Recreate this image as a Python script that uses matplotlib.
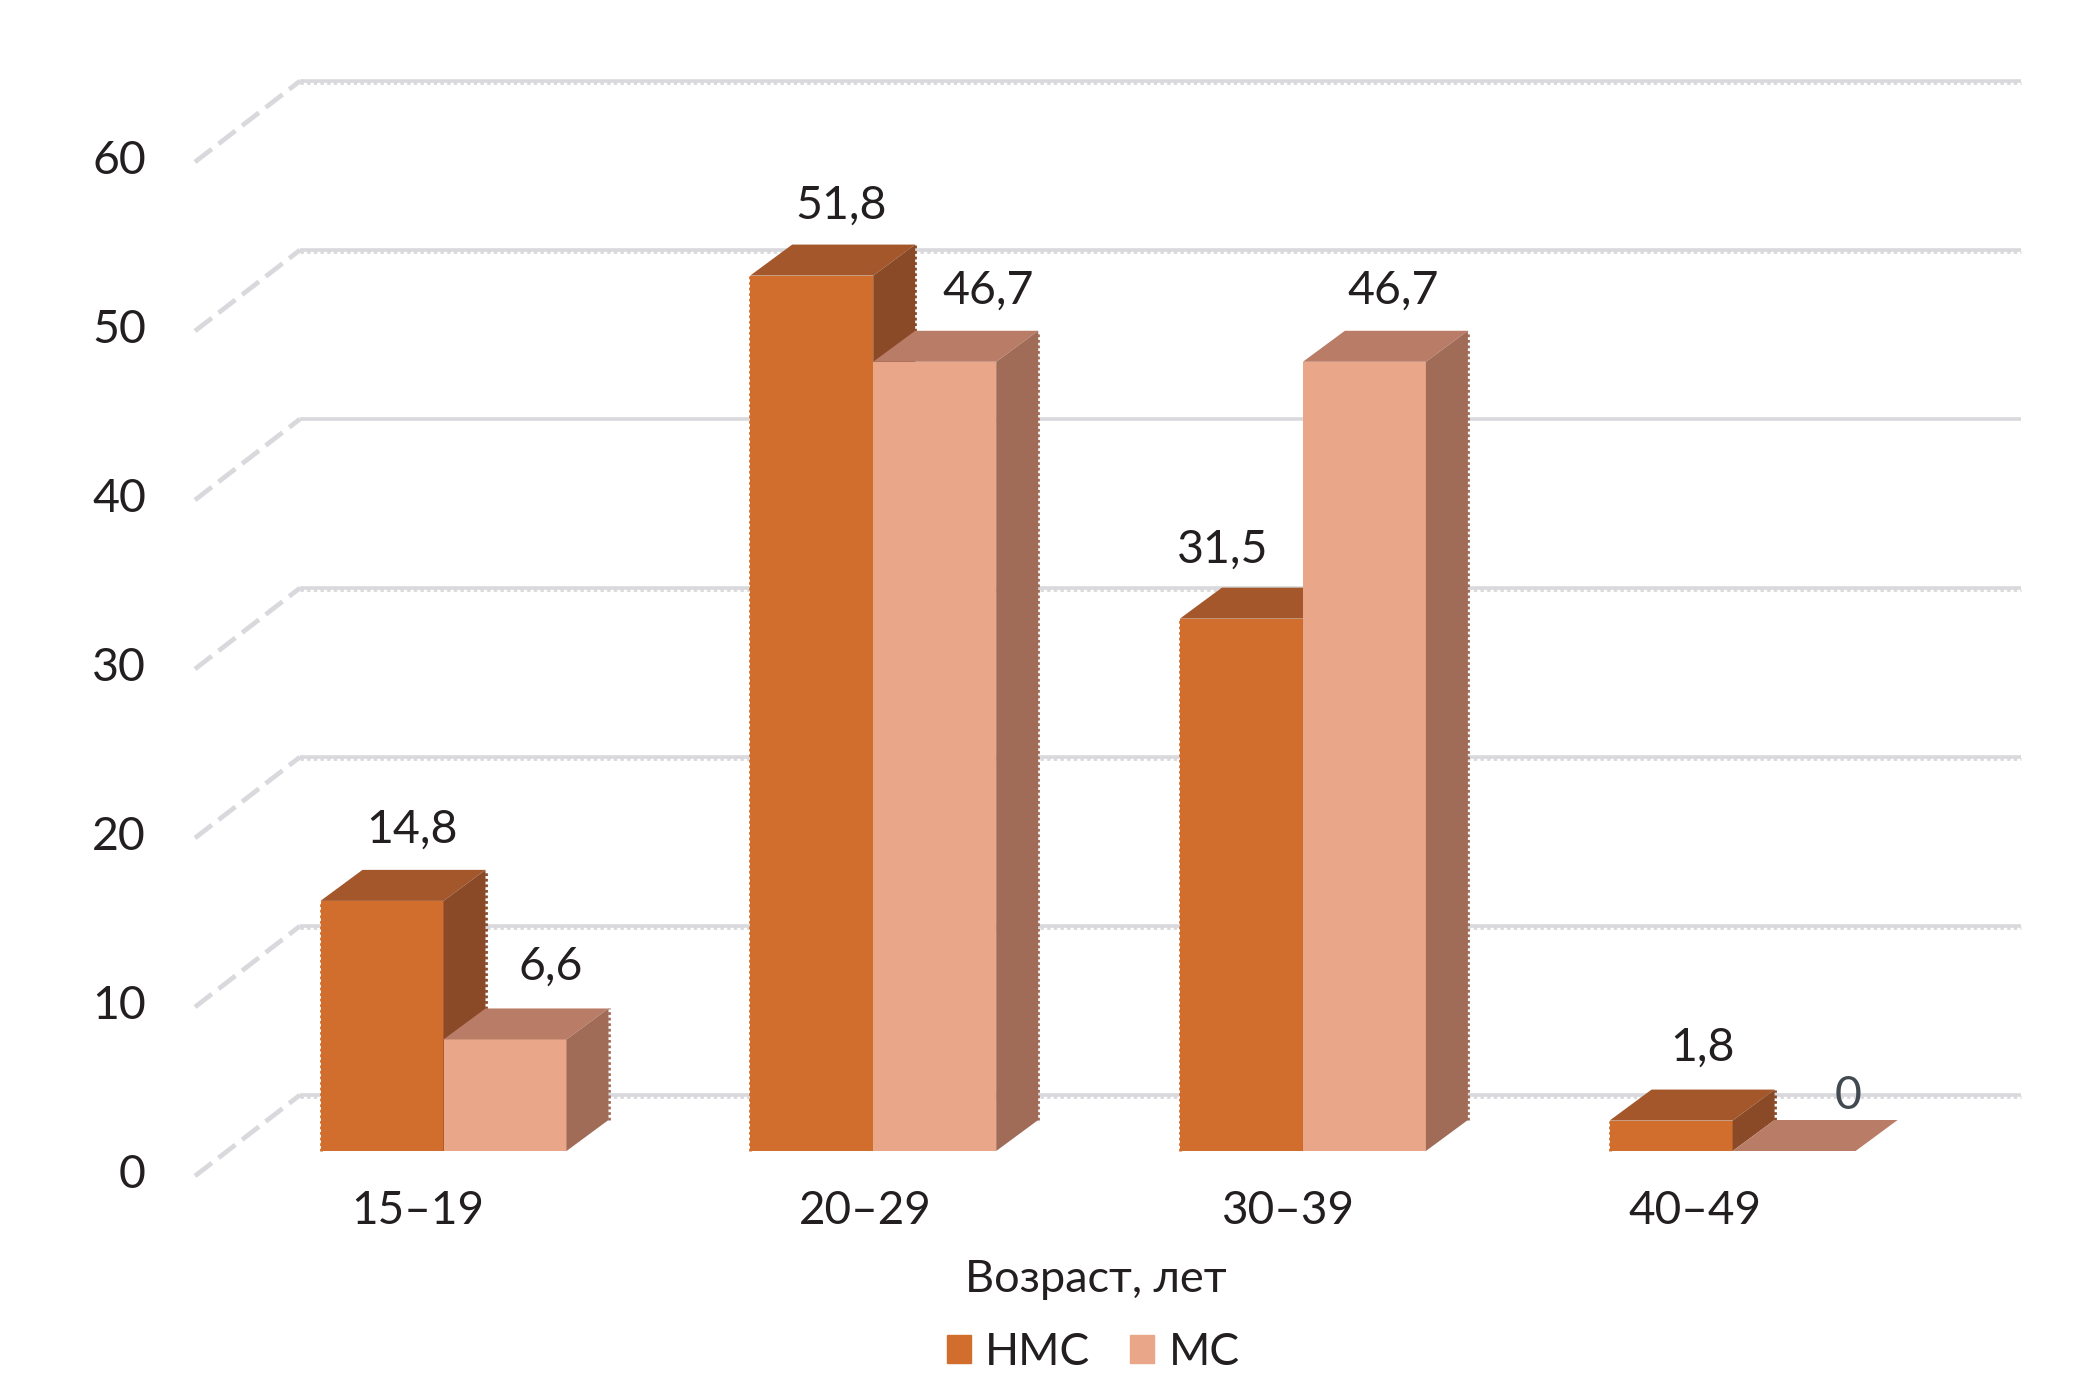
import matplotlib
matplotlib.use("Agg")
import matplotlib.pyplot as plt
from matplotlib.patches import Patch
from matplotlib.transforms import Affine2D

plt.rcParams['font.family'] = ['Lato', 'Noto Sans', 'DejaVu Sans']

categories = ['15–19', '20–29', '30–39', '40–49']
nms = [14.8, 51.8, 31.5, 1.8]
ms = [6.6, 46.7, 46.7, 0]
y_ticks = [0, 10, 20, 30, 40, 50, 60]
series_names = ['НМС', 'МС']
nms_labels = ['14,8', '51,8', '31,5', '1,8']
ms_labels = ['6,6', '46,7', '46,7', '0']
x_title = 'Возраст, лет'

W, H, DPI = 2078, 1378, 100
PX_X, PX_Y = 429.7, 16.9          # pixels per category / per value unit
X0_PX, Y0_PX = 443.5, 1151        # where the first group's centre and value 0 fall
LEFT_PX, RIGHT_PX = 195, 2021
BAR_W = 123 / PX_X
DX, DY = 42 / PX_X, 31 / PX_Y     # bar depth in data units
TXT = '#231f20'
GRID = '#d9d9dd'
FS = 33

fig = plt.figure(figsize=(W / DPI, H / DPI), dpi=DPI, facecolor='white')
ax = fig.add_axes([LEFT_PX / W, (H - Y0_PX) / H, (RIGHT_PX - LEFT_PX) / W, Y0_PX * 0.948 / H])
ax.set_xlim((LEFT_PX - X0_PX) / PX_X, (RIGHT_PX - X0_PX) / PX_X)
ax.set_ylim(0, Y0_PX * 0.948 / PX_Y)
for s in ax.spines.values():
    s.set_visible(False)

# back wall and floor-side lines
wall_dy = 56 / PX_Y
wall_x0 = (300 - X0_PX) / PX_X
wall_x1 = ax.get_xlim()[1]
diag_x = ax.get_xlim()[0]
diag_dy = 81 / PX_Y
for v in y_ticks:
    yb = v + wall_dy
    ax.plot([wall_x0, wall_x1], [yb, yb], color=GRID, lw=2.6, zorder=1, clip_on=False,
            solid_capstyle='butt')
    if v != 40:
        ax.plot([wall_x0, wall_x1], [yb - 2.3 / PX_Y] * 2, color=GRID, lw=2.0, zorder=1,
                clip_on=False, linestyle=(0, (1.2, 1.2)))
    ax.plot([diag_x, wall_x0], [yb - diag_dy, yb], color=GRID, lw=3.4, zorder=1, clip_on=False,
            linestyle=(0, (4.5, 1.8)))


def bar3d(x_left, value, front, top, side):
    ax.bar(x_left, value, BAR_W, align='edge', color=front, zorder=3, clip_on=False, linewidth=0)
    xr = x_left + BAR_W
    ax.fill([x_left, xr, xr + DX, x_left + DX], [value, value, value + DY, value + DY],
            color=top, zorder=3, clip_on=False, linewidth=0)
    ax.fill([xr, xr + DX, xr + DX, xr], [0, DY, value + DY, value],
            color=side, zorder=3, clip_on=False, linewidth=0)
    if value > 0:
        ax.plot([xr + DX] * 2, [DY, value + DY], color=side, lw=2, linestyle=(0, (1, 1)), zorder=3,
                clip_on=False)


colors_nms = ('#d26e2d', '#a3572a', '#8a4a28')
colors_ms = ('#e9a688', '#b97c66', '#a06c58')
for i, (a, b) in enumerate(zip(nms, ms)):
    bar3d(i - BAR_W, a, *colors_nms)
    ax.plot([i - BAR_W] * 2, [0, a], color=colors_nms[0], lw=2, linestyle=(0, (1, 1)), zorder=3,
            clip_on=False)
    bar3d(i, b, *colors_ms)

# value labels, pixel offset from each bar's top centre
nms_off = [(30, 71), (29, 70), (-19, 69), (31, 73)]
ms_off = [(46, 73), (53, 71), (29, 71), (54, 55)]
for i in range(len(categories)):
    ax.annotate(nms_labels[i], (i - BAR_W / 2, nms[i]), xytext=nms_off[i], textcoords='offset pixels',
                ha='center', va='center', fontsize=33.5, color=TXT, zorder=5, annotation_clip=False)
    ax.annotate(ms_labels[i], (i + BAR_W / 2, ms[i]), xytext=ms_off[i], textcoords='offset pixels',
                ha='center', va='center', fontsize=33.5, zorder=5, annotation_clip=False,
                color='#404a50' if ms[i] == 0 else TXT)

# axes ticks
ax.set_yticks(y_ticks)
ax.set_yticklabels([str(v) for v in y_ticks], fontsize=33.5, color=TXT)
ax.tick_params(axis='y', length=0, pad=49 * 0.72)
for lab in ax.get_yticklabels():
    lab.set_transform(lab.get_transform() + Affine2D().translate(0, -20))

ax.set_xticks(range(len(categories)))
ax.set_xticklabels(categories, fontsize=FS, color=TXT)
ax.tick_params(axis='x', length=0, pad=39 * 0.72)
for lab, dx in zip(ax.get_xticklabels(), [-26, -8, -15, -38]):
    lab.set_transform(lab.get_transform() + Affine2D().translate(dx, 0))

fig.text(1096 / W, 1 - 1279 / H, x_title, fontsize=32.5, color=TXT, ha='center', va='center')

handles = [Patch(color=colors_nms[0], label=series_names[0]),
           Patch(color=colors_ms[0], label=series_names[1])]
fig.legend(handles=handles, loc='upper left', bbox_to_anchor=(947 / W, 1 - 1332 / H),
           ncol=2, frameon=False, fontsize=32, labelcolor=TXT, borderpad=0, borderaxespad=0,
           handlelength=0.54, handleheight=0.6, handletextpad=0.32, columnspacing=0.9)

fig.savefig('out.png', dpi=DPI, facecolor='white')
